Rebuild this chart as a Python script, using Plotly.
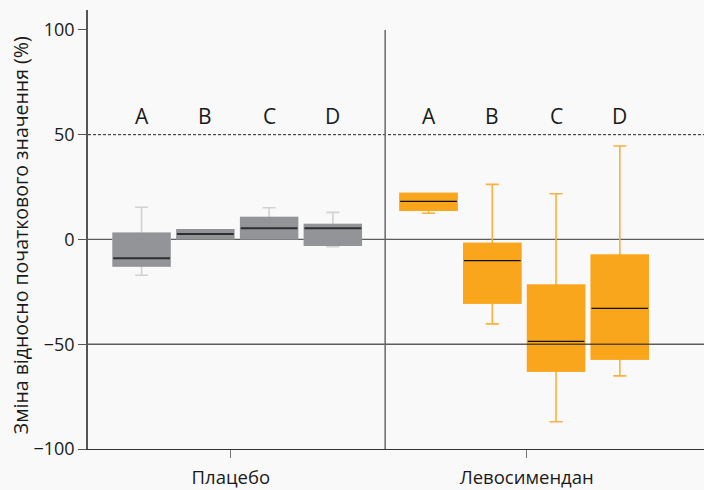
import plotly.graph_objects as go

# Treatment groups and the subgroup letters shown above each box
groups = ["Плацебо", "Левосимендан"]
subgroups = ["A", "B", "C", "D"]

# Box positions on the numeric x axis (four boxes per group)
placebo_x = [0, 1, 2, 3]
levo_x = [4.5, 5.5, 6.5, 7.5]
group_tick_x = [1.4, 6.04]
divider_x = 3.82

# Change from baseline (%) — box statistics per subgroup
placebo_lower = [-17.1, 0.5, 0.5, -3.5]
placebo_q1 = [-12.7, 0.5, 0.5, -2.7]
placebo_median = [-9.0, 2.6, 5.4, 5.4]
placebo_q3 = [2.9, 4.6, 10.5, 7.1]
placebo_upper = [15.4, 4.6, 15.1, 12.9]

levo_lower = [12.5, -40.3, -87.0, -65.1]
levo_q1 = [14.0, -30.3, -62.7, -57.0]
levo_median = [18.2, -10.1, -48.6, -32.9]
levo_q3 = [21.9, -1.9, -21.9, -7.6]
levo_upper = [21.9, 26.3, 21.8, 44.6]

# Y axis ticks and reference levels
y_ticks = [-100, -50, 0, 50, 100]
solid_levels = [0, -50]
dashed_level = 50
y_title = "Зміна відносно початкового значення (%)"

BOX_W = 0.89
WHISKER_LW = 1.6
GRAY = "#939498"
GRAY_WHISKER = "#d2d2d2"
ORANGE = "#f9a61c"
ORANGE_WHISKER = "#fbb040"
TEXT = "#1a1a1a"
FONT = "Open Sans"

series = [
    (placebo_x, placebo_lower, placebo_q1, placebo_median, placebo_q3, placebo_upper,
     GRAY, GRAY_WHISKER, "#2e2e2e", 2.0),
    (levo_x, levo_lower, levo_q1, levo_median, levo_q3, levo_upper,
     ORANGE, ORANGE_WHISKER, "#111111", 1.3),
]

fig = go.Figure()

# Whiskers and caps
for xs, lo, q1, med, q3, hi, fill, wcol, mcol, mw in series:
    fig.add_trace(go.Box(
        x=xs, q1=q1, median=med, q3=q3, lowerfence=lo, upperfence=hi,
        width=BOX_W, whiskerwidth=0.23, fillcolor=fill,
        line=dict(color=wcol, width=WHISKER_LW), boxpoints=False,
        showlegend=False, hoverinfo="skip",
    ))

# Solid box bodies (outline in the fill colour) drawn over the whisker boxes
for xs, lo, q1, med, q3, hi, fill, wcol, mcol, mw in series:
    fig.add_trace(go.Box(
        x=xs, q1=q1, median=med, q3=q3, lowerfence=q1, upperfence=q3,
        width=BOX_W, whiskerwidth=0, fillcolor=fill,
        line=dict(color=fill, width=WHISKER_LW), boxpoints=False,
        showlegend=False, hoverinfo="skip",
    ))

# Median lines
for xs, lo, q1, med, q3, hi, fill, wcol, mcol, mw in series:
    mx, my = [], []
    for x, m in zip(xs, med):
        mx += [x - BOX_W / 2, x + BOX_W / 2, None]
        my += [m, m, None]
    fig.add_trace(go.Scatter(
        x=mx, y=my, mode="lines", line=dict(color=mcol, width=mw),
        showlegend=False, hoverinfo="skip",
    ))

# Subgroup letters above the boxes
for xs in (placebo_x, levo_x):
    for x, s in zip(xs, subgroups):
        fig.add_annotation(x=x, y=59, text=s, showarrow=False,
                           font=dict(family=FONT, size=21, color=TEXT))

# Y axis title
fig.add_annotation(xref="paper", yref="paper", x=-0.1104, y=0.487,
                   xanchor="center", yanchor="middle", textangle=-90,
                   text=y_title, showarrow=False,
                   font=dict(family=FONT, size=19.5, color=TEXT))

# Reference lines
for lvl in solid_levels:
    fig.add_shape(type="line", xref="paper", x0=0, x1=1, yref="y", y0=lvl, y1=lvl,
                  line=dict(color="rgba(40,40,40,0.75)", width=1.3),
                  layer="above" if lvl < 0 else "below")
fig.add_shape(type="line", xref="paper", x0=0, x1=1, yref="y",
              y0=dashed_level, y1=dashed_level,
              line=dict(color="#222222", width=1, dash="3px,2px"), layer="above")
fig.add_shape(type="line", xref="x", x0=divider_x, x1=divider_x, yref="y",
              y0=-100, y1=100, line=dict(color="#666666", width=1.5), layer="above")

fig.update_layout(
    width=704, height=490,
    margin=dict(l=88, r=0, t=10, b=41, autoexpand=False),
    paper_bgcolor="#f9f9f9", plot_bgcolor="#f9f9f9",
    boxmode="overlay",
    font=dict(family=FONT, size=18, color=TEXT),
    xaxis=dict(
        range=[-0.84, 8.82], tickvals=group_tick_x, ticktext=groups,
        showgrid=False, zeroline=False, showline=True, linecolor="#333333",
        linewidth=1.3, ticks="outside", ticklen=8, tickcolor="#777777",
        tickwidth=1.3, tickfont=dict(family=FONT, size=18.5, color=TEXT),
        ticklabelstandoff=4,
    ),
    yaxis=dict(
        range=[-100, 109.5], tickvals=y_ticks,
        ticktext=[str(v).replace("-", "\u2212") for v in y_ticks],
        showgrid=False, zeroline=False, showline=True, linecolor="#555555",
        linewidth=1.5, ticks="outside", ticklen=8, tickcolor="#555555",
        tickwidth=1.3, tickfont=dict(family=FONT, size=18, color=TEXT),
    ),
)

fig.write_html("out.html")
